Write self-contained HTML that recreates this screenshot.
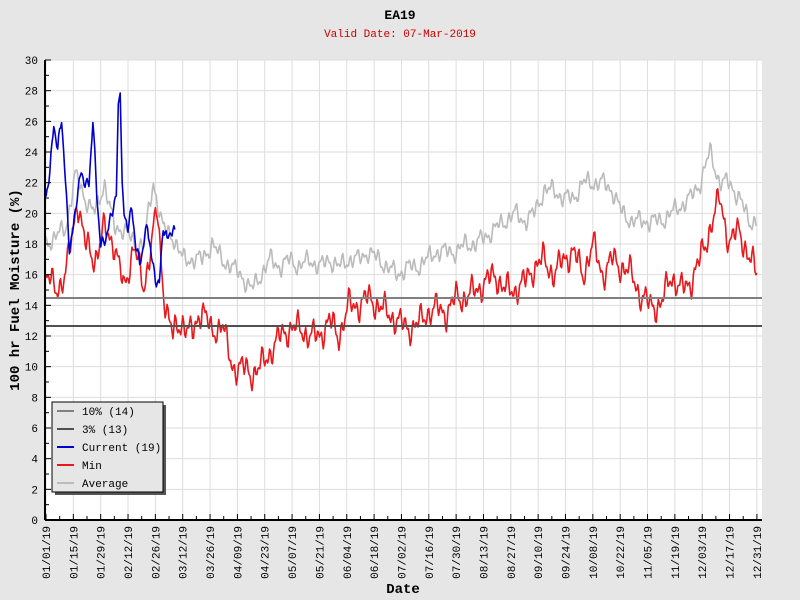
<!DOCTYPE html>
<html><head><meta charset="utf-8"><style>body{margin:0;background:#e6e6e6}svg{display:block}text{font-family:"Liberation Mono","DejaVu Sans Mono",monospace}</style></head>
<body>
<svg id="s" width="800" height="600" xmlns="http://www.w3.org/2000/svg">
<rect width="800" height="600" fill="#e6e6e6"/>
<text x="400" y="19" text-anchor="middle" font-size="13" font-weight="bold">EA19</text>
<text x="400" y="37" text-anchor="middle" font-size="11" fill="#cc0000">Valid Date: 07-Mar-2019</text>
<rect x="45" y="60" width="717" height="460" fill="#fff"/>
<g id="grid"></g>
<g id="series"></g>
<line x1="45" y1="298" x2="762" y2="298" stroke="#808080" stroke-width="2"/>
<line x1="45" y1="326" x2="762" y2="326" stroke="#505050" stroke-width="2"/>
<g id="axes"></g>
<text transform="translate(19,290) rotate(-90)" text-anchor="middle" font-size="14" font-weight="bold">100 hr Fuel Moisture (%)</text>
<text x="403" y="593" text-anchor="middle" font-size="14" font-weight="bold">Date</text>
<rect x="55" y="405" width="111" height="90" fill="#555"/>
<rect x="52" y="402" width="111" height="90" fill="#e6e6e6" stroke="#000" stroke-width="1"/>
<g font-size="11">
<line x1="57" y1="411" x2="74" y2="411" stroke="#808080" stroke-width="2"/><text x="82" y="415">10% (14)</text>
<line x1="57" y1="429" x2="74" y2="429" stroke="#505050" stroke-width="2"/><text x="82" y="433">3% (13)</text>
<line x1="57" y1="447" x2="74" y2="447" stroke="#0000cc" stroke-width="2"/><text x="82" y="451">Current (19)</text>
<line x1="57" y1="465" x2="74" y2="465" stroke="#e8191c" stroke-width="2"/><text x="82" y="469">Min</text>
<line x1="57" y1="483" x2="74" y2="483" stroke="#bbb" stroke-width="2"/><text x="82" y="487">Average</text>
</g>
</svg>
<script>
const NS="http://www.w3.org/2000/svg";
function el(p,t,a,txt){const e=document.createElementNS(NS,t);for(const k in a)e.setAttribute(k,a[k]);if(txt!=null)e.textContent=txt;document.getElementById(p).appendChild(e);return e;}
const X=d=>46+d*1.953, Y=v=>520-v*15.333;
for(let v=2;v<=30;v+=2) el("grid","line",{x1:45,x2:762,y1:Y(v),y2:Y(v),stroke:"#ddd"});
const labels=["01/01/19","01/15/19","01/29/19","02/12/19","02/26/19","03/12/19","03/26/19","04/09/19","04/23/19","05/07/19","05/21/19","06/04/19","06/18/19","07/02/19","07/16/19","07/30/19","08/13/19","08/27/19","09/10/19","09/24/19","10/08/19","10/22/19","11/05/19","11/19/19","12/03/19","12/17/19"];
labels.forEach((l,i)=>{const x=X(i*14);el("grid","line",{x1:x,x2:x,y1:60,y2:520,stroke:"#ddd"});el("axes","text",{transform:`translate(${x+4},526) rotate(-90)`,"text-anchor":"end","font-size":"11"},l);});
{const x=X(364);el("grid","line",{x1:x,x2:x,y1:60,y2:520,stroke:"#ddd"});el("axes","text",{transform:`translate(${x+4},526) rotate(-90)`,"text-anchor":"end","font-size":"11"},"12/31/19");}
el("axes","line",{x1:45,x2:45,y1:60,y2:520,stroke:"#000","stroke-width":2});
el("axes","line",{x1:45,x2:762,y1:520,y2:520,stroke:"#000","stroke-width":2});
for(let v=0;v<=30;v++){el("axes","line",{x1:45,x2:v%2?49:51,y1:Y(v),y2:Y(v),stroke:"#000"});if(v%2==0)el("axes","text",{x:38,y:Y(v)+4,"text-anchor":"end","font-size":"11"},v);}
for(let d=0;d<=364;d+=7) el("axes","line",{x1:X(d),x2:X(d),y1:520,y2:d%14?516:514,stroke:"#000"});
function interp(k,d){for(let i=0;i<k.length-1;i++){if(d>=k[i][0]&&d<=k[i+1][0]){const t=(d-k[i][0])/(k[i+1][0]-k[i][0]);return k[i][1]+t*(k[i+1][1]-k[i][1]);}}return k[k.length-1][1];}
function noise(d,s){return Math.sin(d*1.7+s)*0.5+Math.sin(d*3.1+s*2)*0.4+Math.sin(d*0.7+s*3)*0.5;}
function series(k,d0,d1,amp,seed,col){let p=[];for(let d=d0;d<=d1;d+=0.5){p.push(X(d).toFixed(1)+","+Y(interp(k,d)+amp*noise(d,seed)).toFixed(1));}el("series","polyline",{points:p.join(" "),fill:"none",stroke:col,"stroke-width":1.6,"stroke-linejoin":"round"});}
const avg=[[0,18],[10,19],[15,22.5],[20,21],[25,20],[30,22],[35,19],[40,19],[45,18],[50,18],[55,22],[60,19],[65,18.5],[70,17],[80,17],[85,18],[90,17],[95,16.5],[100,16],[105,15],[110,16],[115,17],[120,16.5],[125,17],[130,16.5],[135,17],[140,16.5],[145,17],[150,16.5],[155,17],[160,17],[165,17.5],[170,17],[175,16.5],[180,16],[185,16.5],[190,16.5],[195,17],[200,17.5],[205,17.5],[210,17.5],[215,18],[220,18],[225,18.5],[230,19],[235,19.5],[240,20],[245,19.5],[250,20],[255,21.5],[260,21.5],[265,21],[270,21],[275,22],[280,22],[285,22],[290,21.5],[295,20],[300,19.5],[305,19.5],[310,19.5],[315,19.5],[320,20],[325,20.5],[330,21],[335,22],[340,24],[345,22],[350,22],[355,21],[360,19.5],[364,19.5]];
const mn=[[0,16],[5,15],[10,16],[14,19],[16,21],[20,18],[25,17],[30,19],[35,18],[40,15],[45,18],[50,15],[55,19],[57,20],[60,15],[65,12],[70,13],[75,12],[80,14],[85,12],[90,13],[95,10],[100,10],[105,9.5],[110,10],[115,11],[120,12],[125,12.5],[130,12.5],[135,12],[140,12],[145,13],[150,12],[155,14],[160,14],[165,14.5],[170,14],[175,13.5],[180,13],[185,12.5],[190,12.7],[195,13.5],[200,13.8],[205,13.5],[210,14.5],[215,14.5],[220,15],[225,15.5],[230,16],[235,15],[240,15],[245,15.5],[250,16.5],[255,17],[260,16],[265,17],[270,17.5],[275,16],[280,18],[285,16],[290,17],[295,16.5],[300,16],[305,14.5],[310,14],[315,14],[320,16],[325,15],[330,15.5],[335,17],[340,19],[345,21],[350,18],[355,19],[360,17],[364,16.2]];
const cur=[[0,21],[2,23],[4,26],[6,24],[8,26],[10,22],[12,18],[14,19],[16,21],[18,22.5],[22,22],[24,26],[26,21],[28,18],[30,18.5],[32,19],[34,20],[36,21],[37,27],[38,28.5],[39,22],[40,20],[42,19],[44,20],[46,18],[48,17],[50,18],[52,19],[54,17],[56,16],[58,15.5],[60,19],[62,18],[64,19],[66,19]];
series(avg,0,364,0.6,1,"#bbb");
series(mn,0,364,0.9,2,"#e8191c");
series(cur,0,66,0.5,3,"#0000cc");
</script>
</body></html>
